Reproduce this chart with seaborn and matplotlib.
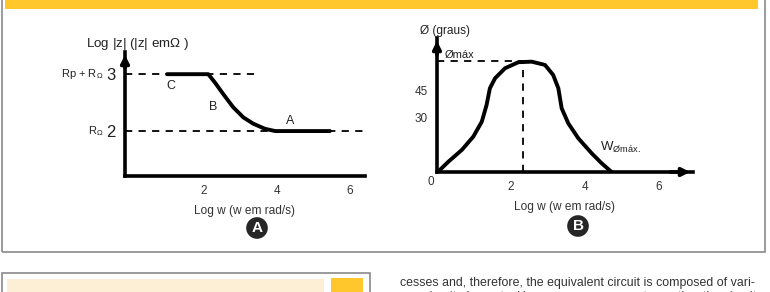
import matplotlib
matplotlib.use("Agg")
import matplotlib.pyplot as plt
import seaborn as sns
import pandas as pd
from matplotlib.patches import Rectangle

sns.set_theme(style="white")
plt.rcParams['font.family'] = ['Liberation Sans', 'DejaVu Sans']
plt.rcParams['mathtext.fontset'] = 'custom'
plt.rcParams['mathtext.rm'] = 'Liberation Sans'
plt.rcParams['lines.solid_joinstyle'] = 'round'
plt.rcParams['lines.solid_capstyle'] = 'round'

# ---- data: panel A (impedance magnitude) ----
logw_a = [0.99, 2.12, 2.30, 2.53, 2.80, 3.08, 3.35, 3.67, 3.95, 5.45]
logz_a = [3.0, 3.0, 2.855, 2.65, 2.42, 2.24, 2.13, 2.04, 2.0, 2.0]
ref_levels_a = [3, 2]
ref_ends_a = [3.4, 6.4]
xticks_a = [2, 4, 6]
ytick_labels_a = ["3", "2"]
ytick_names_a = [r"Rp + R$_{\Omega}$", r"R$_{\Omega}$"]
region_labels = ["C", "B", "A"]
region_x = [1.1, 2.25, 4.35]
region_y = [2.8, 2.42, 2.18]

# ---- data: panel B (phase angle) ----
logw_b = [0.02, 0.31, 0.67, 0.98, 1.21, 1.34, 1.43, 1.57, 1.84, 2.20, 2.56, 2.92,
          3.14, 3.28, 3.37, 3.55, 3.82, 4.18, 4.45, 4.72]
phase_b = [0.0, 5.7, 12.1, 19.4, 27.6, 36.8, 46.0, 51.5, 57.0, 60.3, 60.6, 58.8,
           53.3, 46.0, 35.0, 26.7, 18.5, 10.3, 4.8, 0.0]
peak_x = 2.33
peak_y = 60.7
xticks_b = [2, 4, 6]
yticks_b = [30, 45]

df_a = pd.DataFrame({"x": logw_a, "y": logz_a})
df_b = pd.DataFrame({"x": logw_b, "y": phase_b})

W, H = 770, 292
fig = plt.figure(figsize=(W / 100, H / 100), dpi=100)
fig.patch.set_facecolor("white")

def fx(px):
    return px / W

def fy(py):
    return 1 - py / H

# frame and decorations
fig.add_artist(Rectangle((fx(1.5), fy(252)), fx(763), fy(-5) - fy(252), transform=fig.transFigure,
                         fill=False, edgecolor="#8a8a8a", lw=1.2))
fig.add_artist(Rectangle((fx(5), fy(9)), fx(753), fy(0) - fy(9) + 0.02, transform=fig.transFigure,
                         facecolor="#FFC72C", edgecolor="none"))
fig.add_artist(Rectangle((fx(1.5), fy(310)), fx(368), fy(273) - fy(310), transform=fig.transFigure,
                         fill=False, edgecolor="#8a8a8a", lw=1.2))
fig.add_artist(Rectangle((fx(7), fy(310)), fx(317), fy(279) - fy(310), transform=fig.transFigure,
                         facecolor="#FDEFD6", edgecolor="none"))
fig.add_artist(Rectangle((fx(331), fy(310)), fx(32), fy(278) - fy(310), transform=fig.transFigure,
                         facecolor="#FFC72C", edgecolor="none"))
fig.text(fx(400), fy(283), "cesses and, therefore, the equivalent circuit is composed of vari-",
         fontsize=8.9, color="#333333", va="center", ha="left")
fig.text(fx(400), fy(297), "ous circuit elements. However, one process to another the circuit",
         fontsize=8.9, color="#333333", va="center", ha="left")

# ---------------- Panel A ----------------
axA = fig.add_axes([fx(125), fy(176), fx(365) - fx(125), fy(52) - fy(176)])
axA.set_xlim(-0.16, 6.41)
axA.set_ylim(1.21, 3.39)
sns.lineplot(data=df_a, x="x", y="y", ax=axA, color="black", lw=2.8, sort=False)
for lvl, xe in zip(ref_levels_a, ref_ends_a):
    axA.plot([-0.16, xe], [lvl, lvl], ls=(0, (4, 3.5)), color="black", lw=1.3)
for s in ["top", "right"]:
    axA.spines[s].set_visible(False)
for s in ["left", "bottom"]:
    axA.spines[s].set_color("black")
    axA.spines[s].set_linewidth(2.6)
axA.annotate("", xy=(0, 1.0), xytext=(0, 0.85), xycoords="axes fraction",
             arrowprops=dict(arrowstyle="-|>", color="black", lw=2.6, mutation_scale=12))
axA.set_xticks(xticks_a)
axA.set_xticklabels([str(t) for t in xticks_a], fontsize=8.5, color="#333333")
axA.set_yticks(ref_levels_a)
axA.set_yticklabels(ytick_labels_a, fontsize=12, color="#222222")
axA.tick_params(axis="both", direction="inout", length=7, width=1.3, color="black", pad=3)
axA.set_xlabel("Log w (w em rad/s)", fontsize=8.6, color="#333333", labelpad=6)
axA.set_ylabel("")
for name, lvl in zip(ytick_names_a, ref_levels_a):
    axA.text(-0.09, lvl, name, transform=axA.get_yaxis_transform(), fontsize=8,
             ha="right", va="center", color="#222222")
for lab, x, y in zip(region_labels, region_x, region_y):
    axA.text(x, y, lab, fontsize=9, ha="center", va="center", color="#222222")
fig.text(fx(138), fy(44), r"Log |z| (|z| em$\Omega$ )", fontsize=9.6, ha="center", va="center",
         color="#222222")

fig.text(fx(257), fy(228), "A", fontsize=11, fontweight="bold", color="white", ha="center",
         va="center",
         bbox=dict(boxstyle="circle,pad=0.25", facecolor="#262626", edgecolor="none"))

# ---------------- Panel B ----------------
axB = fig.add_axes([fx(437), fy(172), fx(693) - fx(437), fy(38) - fy(172)])
axB.set_xlim(0, 6.92)
axB.set_ylim(0, 73.6)
sns.lineplot(data=df_b, x="x", y="y", ax=axB, color="black", lw=2.8, sort=False)
axB.plot([0, peak_x], [peak_y, peak_y], ls=(0, (4, 3.5)), color="black", lw=1.3)
axB.plot([peak_x, peak_x], [0, peak_y], ls=(0, (4, 3.5)), color="black", lw=1.3)
for s in ["top", "right"]:
    axB.spines[s].set_visible(False)
for s in ["left", "bottom"]:
    axB.spines[s].set_color("black")
    axB.spines[s].set_linewidth(2.6)
axB.annotate("", xy=(0, 1.0), xytext=(0, 0.85), xycoords="axes fraction",
             arrowprops=dict(arrowstyle="-|>", color="black", lw=2.6, mutation_scale=12))
axB.annotate("", xy=(1.0, 0), xytext=(0.9, 0), xycoords="axes fraction",
             arrowprops=dict(arrowstyle="-|>", color="black", lw=2.6, mutation_scale=12))
axB.set_xticks(xticks_b)
axB.set_xticklabels([str(t) for t in xticks_b], fontsize=8.5, color="#333333")
axB.set_yticks(yticks_b)
axB.set_yticklabels([str(t) for t in yticks_b], fontsize=8.5, color="#333333")
axB.tick_params(axis="both", direction="inout", length=7, width=1.3, color="black", pad=3)
axB.set_xlabel("Log w (w em rad/s)", fontsize=8.6, color="#333333", labelpad=6)
axB.set_ylabel("")
axB.text(-0.01, -0.03, "0", transform=axB.transAxes, fontsize=8.5, ha="right", va="top",
         color="#333333")
axB.text(0.03, peak_y + 1.0, "Ømáx", fontsize=8, ha="left", va="bottom",
         color="#222222", transform=axB.get_yaxis_transform())
axB.text(4.95, 13.7, r"W$_{\mathrm{Ømáx.}}$", fontsize=9.5, ha="center", va="center",
         color="#222222")
fig.text(fx(445), fy(31), "Ø (graus)", fontsize=8.6, ha="center", va="center", color="#222222")

fig.text(fx(578), fy(226), "B", fontsize=11, fontweight="bold", color="white", ha="center",
         va="center",
         bbox=dict(boxstyle="circle,pad=0.25", facecolor="#262626", edgecolor="none"))

fig.savefig("out.png", dpi=100, facecolor="white")
